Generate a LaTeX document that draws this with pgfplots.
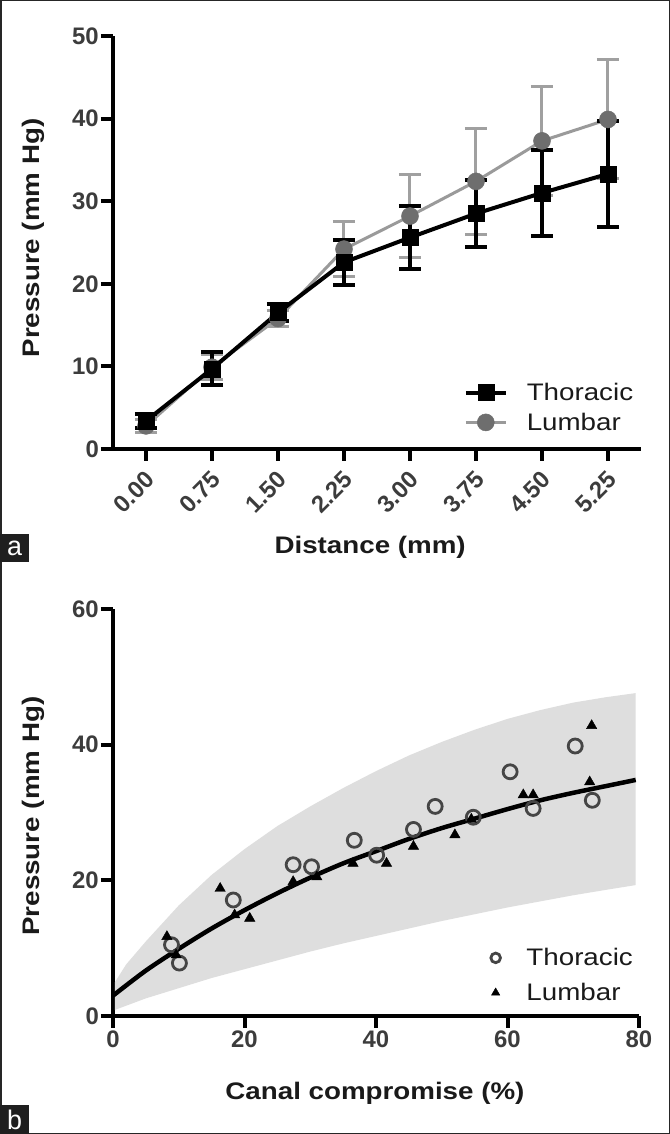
\documentclass[border=0pt]{standalone}
\usepackage{fontspec}
\setmainfont{Liberation Sans}
\newfontfamily\labfont[FakeStretch=1.16]{Liberation Sans}
\usepackage{pgfplots}
\pgfplotsset{compat=1.18}
\definecolor{tickgray}{HTML}{3C3C3C}
\definecolor{labblack}{HTML}{1A1A1A}
\definecolor{lumline}{HTML}{9A9A9A}
\definecolor{lummark}{HTML}{6E6E6E}
\definecolor{lumerr}{HTML}{A0A0A0}
\definecolor{bandgray}{HTML}{DEDEDE}
\definecolor{circgray}{HTML}{454545}
\newcommand{\tickfont}{\fontsize{24pt}{28pt}\selectfont\bfseries}
\newcommand{\labelfont}{\labfont\fontsize{24pt}{28pt}\selectfont\bfseries}
\newcommand{\legfont}{\labfont\fontsize{24pt}{28pt}\selectfont}

\pgfplotstableread{
x  tm   te   lm   le
0  3.4  0.8  2.8  0.8
1  9.7  2.0  9.9  1.5
2  16.5 1.0  15.8 1.0
3  22.6 2.7  24.2 3.3
4  25.6 3.8  28.2 5.0
5  28.5 4.1  32.4 6.4
6  31.0 5.2  37.3 6.6
7  33.3 6.4  39.9 7.2
}\dataA

\pgfplotsset{
  myaxis/.style={
    scale only axis,
    axis lines=left,
    axis line style={line width=4bp, -},
    tick align=outside,
    major tick length=12bp,
    tick style={line width=4bp, black},
    minor tick num=0,
    ticklabel style={font=\tickfont, text=tickgray},
    /pgf/number format/assume math mode=true,
    xlabel style={font=\labelfont, text=labblack},
    ylabel style={font=\labelfont, text=labblack},
    clip=false,
  }
}

\begin{document}
\begin{tikzpicture}
\useasboundingbox (0bp,0bp) rectangle (670bp,1134bp);
\fill[white] (0bp,0bp) rectangle (670bp,1134bp);

% ---------------- panel a ----------------
\begin{axis}[myaxis,
  at={(113bp,685bp)}, anchor=south west,
  width=528bp, height=413bp,
  xmin=-0.5, xmax=7.5, ymin=0, ymax=50,
  xtick={0,1,2,3,4,5,6,7},
  xticklabels={0.00,0.75,1.50,2.25,3.00,3.75,4.50,5.25},
  xticklabel style={rotate=45, anchor=north east, inner sep=2bp, xshift=-5bp, yshift=-3bp},
  ytick={0,10,20,30,40,50},
  yticklabel style={inner sep=2bp},
  xlabel={Distance (mm)},
  ylabel={Pressure (mm Hg)},
  xlabel style={at={(axis description cs:0.487,-0.238)}, anchor=center},
  ylabel style={at={(axis description cs:-0.1515,0.511)}, anchor=center},
  legend image code/.code={\draw[mark repeat=2,mark phase=2,#1] plot coordinates {(0bp,0bp) (20bp,0bp) (40bp,0bp)};},
  legend style={at={(axis description cs:0.664,0.1005)}, anchor=west,
    draw=none, fill=none, inner sep=0pt, font=\legfont, text=labblack,
    row sep=7bp, nodes={inner sep=2bp},
    /tikz/every odd column/.append style={column sep=17bp}},
  legend cell align=left,
  reverse legend,
]
\addplot[lumline, line width=3bp, mark=*, mark size=8.5bp,
  mark options={fill=lummark, draw=lummark, line width=0.5bp},
  error bars/.cd, y dir=both, y explicit,
  error bar style={line width=3bp, color=lumerr},
  error mark options={rotate=90, line width=3bp, mark size=11bp, color=lumerr}]
  table[x=x, y=lm, y error=le] {\dataA};
\addlegendentry{Lumbar}
\addplot[black, line width=4bp, mark=square*, mark size=8bp,
  mark options={fill=black, draw=black, line width=0.5bp},
  error bars/.cd, y dir=both, y explicit,
  error bar style={line width=4bp, color=black},
  error mark options={rotate=90, line width=4bp, mark size=11bp, color=black}]
  table[x=x, y=tm, y error=te] {\dataA};
\addlegendentry{Thoracic}
\end{axis}

% ---------------- panel b ----------------
\begin{axis}[myaxis,
  at={(113bp,118bp)}, anchor=south west,
  width=526bp, height=407bp,
  xmin=0, xmax=80, ymin=0, ymax=60,
  xtick={0,20,40,60,80},
  ytick={0,20,40,60},
  xticklabel style={inner sep=3bp},
  yticklabel style={inner sep=2bp},
  xlabel={Canal compromise (\%)},
  ylabel={Pressure (mm Hg)},
  xlabel style={at={(axis description cs:0.498,-0.19)}, anchor=center},
  ylabel style={at={(axis description cs:-0.152,0.491)}, anchor=center},
  legend image code/.code={\draw[#1, mark size=4.8bp] plot coordinates {(0bp,0bp)};},
  legend style={at={(axis description cs:0.718,0.1)}, anchor=west,
    draw=none, fill=none, inner sep=0pt, font=\legfont, text=labblack,
    row sep=12bp, nodes={inner sep=2bp},
    /tikz/every odd column/.append style={column sep=24bp}},
  legend cell align=left,
]
\addplot[fill=bandgray, draw=none, forget plot] coordinates {
 (0.3,5.0) (2,7.6) (5,11.0) (10,16.3) (15,20.8) (20,24.6) (25,28.0) (30,30.9)
 (35,33.6) (40,36.1) (45,38.4) (50,40.4) (55,42.2) (60,43.8) (65,45.1)
 (70,46.2) (75,47.0) (79.5,47.6)
 (79.5,19.3) (75,18.6) (70,17.8) (65,16.9) (60,16.0) (55,15.0) (50,14.0)
 (45,12.9) (40,11.8) (35,10.7) (30,9.5) (25,8.2) (20,6.9) (15,5.6) (10,4.1)
 (5,2.6) (0.3,0.9)};
\addplot[black, line width=4.5bp, smooth, forget plot] coordinates {
 (0,3.0) (5,6.7) (10,9.9) (15,12.9) (20,15.6) (25,18.1) (30,20.4) (35,22.5)
 (40,24.3) (45,26.1) (50,27.7) (55,29.1) (60,30.5) (65,31.8) (70,32.9)
 (75,33.9) (79.5,34.8)};
\addplot[only marks, mark=o, mark size=7bp, mark options={draw=circgray, line width=2.8bp}]
 coordinates {
 (8.9,10.5) (10.1,7.8) (18.3,17.1) (27.4,22.3) (30.2,22.0) (36.7,25.9)
 (40.1,23.7) (45.7,27.5) (49.0,30.9) (54.8,29.3) (60.4,36.0) (63.9,30.6)
 (70.3,39.8) (72.9,31.8)};
\addlegendentry{Thoracic}
\addplot[only marks, mark=triangle*, mark size=6bp, mark options={fill=black, draw=black}]
 coordinates {
 (8.2,11.7) (9.6,9.0) (16.3,18.8) (18.5,14.9) (20.8,14.4) (27.4,19.8)
 (31.0,20.5) (36.5,22.5) (41.6,22.5) (45.7,25.0) (52.0,26.7) (54.5,29.0)
 (62.4,32.6) (63.9,32.6) (72.5,34.5) (72.8,42.8)};
\addlegendentry{Lumbar}
\end{axis}

% frame and panel letters
\draw[line width=1.5bp, black!85] (0.75bp,0.75bp) rectangle (669.25bp,1133.25bp);
\fill[black!88] (0bp,572bp) rectangle (29bp,600bp);
\node[text=white, font=\fontsize{27pt}{30pt}\selectfont, inner sep=0pt] at (14.5bp,586bp) {a};
\fill[black!88] (0bp,0bp) rectangle (29bp,29bp);
\node[text=white, font=\fontsize{27pt}{30pt}\selectfont, inner sep=0pt] at (14.5bp,14.5bp) {b};
\end{tikzpicture}
\end{document}
